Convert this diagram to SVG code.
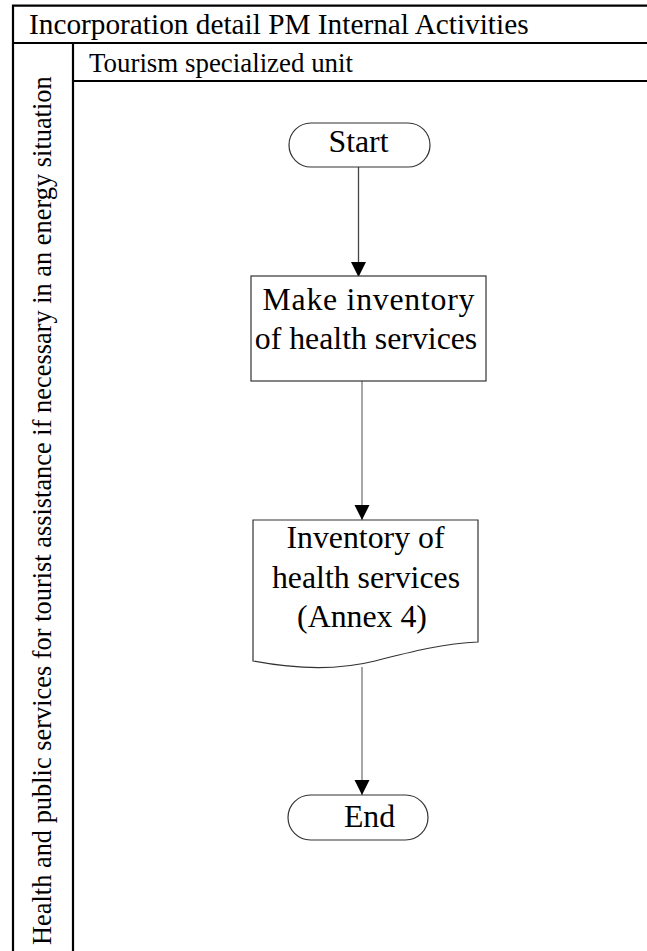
<svg xmlns="http://www.w3.org/2000/svg" width="647" height="951" viewBox="0 0 647 951">
<style>
.frame { stroke: #000; stroke-width: 2.2; fill: none; }
.shape { fill: #fff; stroke: #333; stroke-width: 1.2; }
.conn { stroke: #777; stroke-width: 1.3; fill: none; }
.lbl { font-size: 31.8px; text-anchor: middle; }
</style>
<defs>
<marker id="arr" markerWidth="16" markerHeight="16" refX="15" refY="7.5" orient="auto" markerUnits="userSpaceOnUse">
<path d="M0,0 L15,7.5 L0,15 Z" fill="#000"/>
</marker>
</defs>
<rect width="647" height="951" fill="#fff"/>
<g id="frame">
<path class="frame" d="M13,951 V5.7 H647 M13,43 H647 M73,43 V951 M73,81 H647"/>
<g font-family="Liberation Serif, serif" fill="#000">
<text x="29" y="34" font-size="29.3">Incorporation detail PM Internal Activities</text>
<text x="89" y="72" font-size="26.9">Tourism specialized unit</text>
<text transform="translate(51,945) rotate(-90)" font-size="26.4">Health and public services for tourist assistance if necessary in an energy situation</text>
</g>
</g>
<g id="connectors">
<path class="conn" style="stroke:#444" d="M358.5,167 V277" marker-end="url(#arr)"/>
<path class="conn" d="M362,381 V520" marker-end="url(#arr)"/>
<path class="conn" d="M362,667 V795" marker-end="url(#arr)"/>
</g>
<g font-family="Liberation Serif, serif" fill="#000">
<g id="start">
<rect class="shape" x="289" y="123" width="141" height="44" rx="22"/>
<text class="lbl" x="358.5" y="152">Start</text>
</g>
<g id="make">
<rect class="shape" x="251" y="276" width="235" height="105"/>
<text class="lbl" x="368.5" y="310" textLength="212" lengthAdjust="spacing">Make inventory</text>
<text class="lbl" x="366" y="349">of health services</text>
</g>
<g id="inventory">
<path class="shape" d="M253,520 H478 V642 C445,643 410,652 375,661 C335,671 295,669 253,661 Z"/>
<text class="lbl" x="365.5" y="548">Inventory of</text>
<text class="lbl" x="366" y="588">health services</text>
<text class="lbl" x="362" y="627">(Annex 4)</text>
</g>
<g id="end">
<rect class="shape" x="288" y="795" width="140" height="45" rx="22.5"/>
<text class="lbl" x="369.5" y="827">End</text>
</g>
</g>
</svg>
